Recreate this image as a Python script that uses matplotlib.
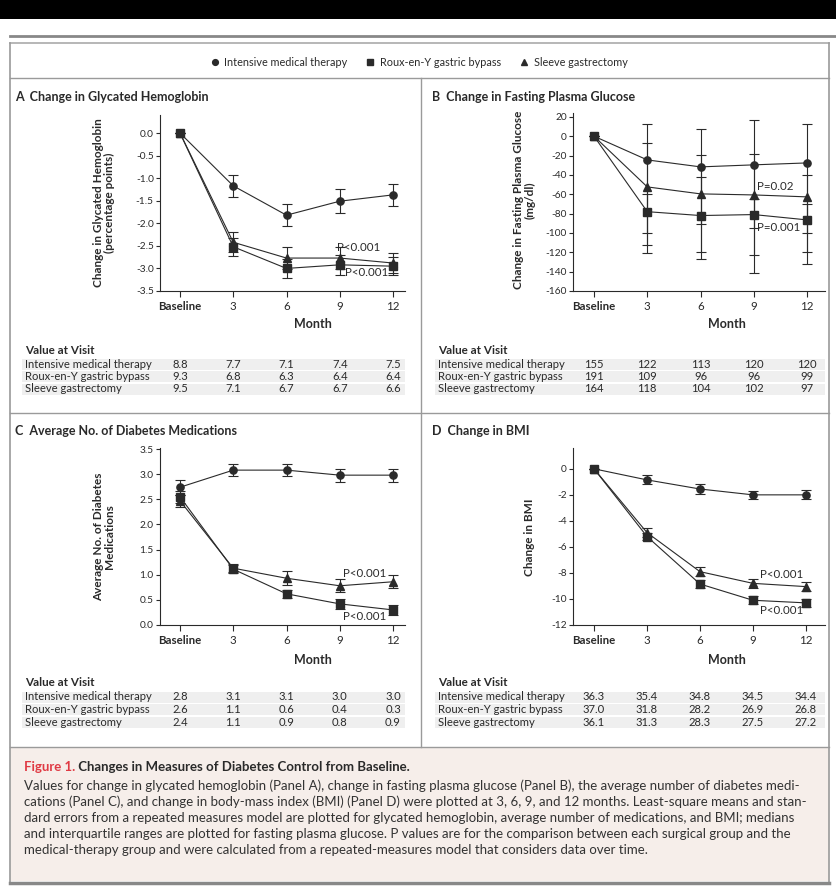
import matplotlib
matplotlib.use('Agg')
import matplotlib.pyplot as plt
from matplotlib.lines import Line2D
from matplotlib.patches import Rectangle
from matplotlib.transforms import blended_transform_factory

plt.rcParams['font.family'] = ['Lato', 'DejaVu Sans']
plt.rcParams['axes.unicode_minus'] = False

W, H = 837, 889
INK = '#2a2a2a'
RULE = '#9a9a9a'

# ---- data ----
months = [0, 3, 6, 9, 12]
month_labels = ['Baseline', '3', '6', '9', '12']
groups = ['Intensive medical therapy', 'Roux-en-Y gastric bypass', 'Sleeve gastrectomy']
group_markers = ['o', 's', '^']
group_msize = [5.2, 6.2, 5.4]

# Panel A: change in glycated hemoglobin (percentage points), mean and SE
hba1c_med = [0, -1.17, -1.82, -1.51, -1.37]
hba1c_rygb = [0, -2.52, -3.00, -2.92, -2.95]
hba1c_slv = [0, -2.42, -2.77, -2.77, -2.88]
hba1c_med_se = [0, 0.24, 0.25, 0.26, 0.25]
hba1c_rygb_se = [0, 0.20, 0.22, 0.22, 0.20]
hba1c_slv_se = [0, 0.22, 0.25, 0.24, 0.22]

# Panel B: change in fasting plasma glucose (mg/dl), median and IQR
fpg_med = [0, -24.5, -31.7, -29.6, -27.6]
fpg_rygb = [0, -78, -82, -81, -86.5]
fpg_slv = [0, -52.4, -59.6, -60.7, -62.7]
fpg_med_q1 = [0, -112, -120, -123, -120]
fpg_med_q3 = [0, 13, -19, -18, 13]
fpg_rygb_q1 = [0, -100, -127, -95, -100]
fpg_rygb_q3 = [0, -60, -42, -65, -70]
fpg_slv_q1 = [0, -121, -91, -141, -132]
fpg_slv_q3 = [0, -7, 7, 17, -40]

# Panel C: average number of diabetes medications, mean and SE
meds_med = [2.74, 3.08, 3.08, 2.98, 2.98]
meds_rygb = [2.55, 1.11, 0.62, 0.42, 0.30]
meds_slv = [2.47, 1.13, 0.93, 0.78, 0.86]
meds_med_se = [0.15, 0.12, 0.12, 0.13, 0.13]
meds_rygb_se = [0.12, 0.08, 0.08, 0.10, 0.10]
meds_slv_se = [0.12, 0.08, 0.14, 0.13, 0.13]

# Panel D: change in BMI, mean and SE
bmi_med = [0, -0.85, -1.55, -2.0, -2.0]
bmi_rygb = [0, -5.2, -8.85, -10.1, -10.3]
bmi_slv = [0, -4.9, -7.9, -8.8, -9.05]
bmi_med_se = [0, 0.35, 0.35, 0.30, 0.35]
bmi_rygb_se = [0, 0.30, 0.30, 0.30, 0.30]
bmi_slv_se = [0, 0.35, 0.35, 0.35, 0.35]

# value-at-visit tables (med, rygb, sleeve)
tab_a = [['8.8', '7.7', '7.1', '7.4', '7.5'],
         ['9.3', '6.8', '6.3', '6.4', '6.4'],
         ['9.5', '7.1', '6.7', '6.7', '6.6']]
tab_b = [['155', '122', '113', '120', '120'],
         ['191', '109', '96', '96', '99'],
         ['164', '118', '104', '102', '97']]
tab_c = [['2.8', '3.1', '3.1', '3.0', '3.0'],
         ['2.6', '1.1', '0.6', '0.4', '0.3'],
         ['2.4', '1.1', '0.9', '0.8', '0.9']]
tab_d = [['36.3', '35.4', '34.8', '34.5', '34.4'],
         ['37.0', '31.8', '28.2', '26.9', '26.8'],
         ['36.1', '31.3', '28.3', '27.5', '27.2']]

caption_lines = [
    "Values for change in glycated hemoglobin (Panel A), change in fasting plasma glucose (Panel B), the average number of diabetes medi-",
    "cations (Panel C), and change in body-mass index (BMI) (Panel D) were plotted at 3, 6, 9, and 12 months. Least-square means and stan-",
    "dard errors from a repeated measures model are plotted for glycated hemoglobin, average number of medications, and BMI; medians",
    "and interquartile ranges are plotted for fasting plasma glucose. P values are for the comparison between each surgical group and the",
    "medical-therapy group and were calculated from a repeated-measures model that considers data over time.",
]


def sym(se):
    return [se, se]


def iqr(mid, q1, q3):
    return [[m - a for m, a in zip(mid, q1)], [b - m for m, b in zip(mid, q3)]]


panels = [
    dict(title='A  Change in Glycated Hemoglobin', tpos=(15, 97), box=(160, 115, 405, 291),
         xlim=(-1.127, 12.676), ylim=(-3.5, 0.4), yticks=[0, -0.5, -1, -1.5, -2, -2.5, -3, -3.5], yfmt='{:.1f}',
         ylabel='Change in Glycated Hemoglobin\n(percentage points)', ylpos=(104, 203),
         series=[(hba1c_med, sym(hba1c_med_se)), (hba1c_rygb, sym(hba1c_rygb_se)), (hba1c_slv, sym(hba1c_slv_se))],
         pvals=[(8.85, -2.53, 'P<0.001'), (9.3, -3.1, 'P<0.001')],
         month=(313, 324), table=tab_a, tx=25, ty=350, shade=(22, 405)),
    dict(title='B  Change in Fasting Plasma Glucose', tpos=(432, 97), box=(573, 113, 825, 291),
         xlim=(-1.183, 13.01), ylim=(-160, 24), yticks=list(range(20, -161, -20)), yfmt='{:d}',
         ylabel='Change in Fasting Plasma Glucose\n(mg/dl)', ylpos=(524, 200),
         series=[(fpg_med, iqr(fpg_med, fpg_med_q1, fpg_med_q3)),
                 (fpg_rygb, iqr(fpg_rygb, fpg_rygb_q1, fpg_rygb_q3)),
                 (fpg_slv, iqr(fpg_slv, fpg_slv_q1, fpg_slv_q3))],
         pvals=[(9.2, -52, 'P=0.02'), (9.2, -94, 'P=0.001')],
         month=(727, 324), table=tab_b, tx=438, ty=350, shade=(435, 825)),
    dict(title='C  Average No. of Diabetes Medications', tpos=(15, 431), box=(160, 448, 405, 625),
         xlim=(-1.127, 12.676), ylim=(0, 3.52), yticks=[0, 0.5, 1, 1.5, 2, 2.5, 3, 3.5], yfmt='{:.1f}',
         ylabel='Average No. of Diabetes\nMedications', ylpos=(104, 537),
         series=[(meds_med, sym(meds_med_se)), (meds_rygb, sym(meds_rygb_se)), (meds_slv, sym(meds_slv_se))],
         pvals=[(9.2, 1.03, 'P<0.001'), (9.2, 0.16, 'P<0.001')],
         month=(313, 660), table=tab_c, tx=25, ty=683, shade=(22, 405)),
    dict(title='D  Change in BMI', tpos=(432, 431), box=(573, 448, 825, 625),
         xlim=(-1.19, 13.08), ylim=(-12, 1.6), yticks=list(range(0, -13, -2)), yfmt='{:d}',
         ylabel='Change in BMI', ylpos=(530, 537),
         series=[(bmi_med, sym(bmi_med_se)), (bmi_rygb, sym(bmi_rygb_se)), (bmi_slv, sym(bmi_slv_se))],
         pvals=[(9.4, -8.1, 'P<0.001'), (9.4, -10.85, 'P<0.001')],
         month=(727, 660), table=tab_d, tx=438, ty=683, shade=(435, 825)),
]

fig = plt.figure(figsize=(W / 100, H / 100), dpi=100)
fig.patch.set_facecolor('white')

# background axes in pixel coordinates (y down)
bg = fig.add_axes([0, 0, 1, 1])
bg.set_xlim(0, W)
bg.set_ylim(H, 0)
bg.axis('off')

# frame
bg.add_patch(Rectangle((0, 0), W, 19, color='black', lw=0))
bg.add_patch(Rectangle((10, 747), 819, 134, facecolor='#f6eeea', edgecolor='none'))
bg.plot([10, W], [36, 36], color='#888888', lw=2)
bg.plot([10, 829], [43, 43], color='#aaaaaa', lw=1.2)
bg.plot([10, 10], [43, 883], color=RULE, lw=1.2)
bg.plot([829, 829], [43, 883], color=RULE, lw=1.2)
bg.plot([10, 829], [78, 78], color=RULE, lw=1)
bg.plot([421, 421], [78, 747], color=RULE, lw=1)
bg.plot([10, 829], [413, 413], color=RULE, lw=1)
bg.plot([10, 829], [747, 747], color=RULE, lw=1)
bg.plot([10, 829], [883, 883], color='#888888', lw=2.5)

# legend
handles = [Line2D([], [], ls='none', marker=m, ms=s * 0.8, color=INK) for m, s in zip(group_markers, group_msize)]
bg.legend(handles, groups, loc='center', bbox_to_anchor=(419, 62), bbox_transform=bg.transData,
          ncol=3, frameon=False, fontsize=7.8, handlelength=0.8, handletextpad=0.5,
          columnspacing=1.7, labelcolor=INK)

for p in panels:
    l, t, r, b = p['box']
    ax = fig.add_axes([l / W, 1 - b / H, (r - l) / W, (b - t) / H])
    ax.patch.set_alpha(0)
    # draw medical, sleeve, bypass so squares sit on top
    for k in [0, 2, 1]:
        y, err = p['series'][k]
        ax.errorbar(months, y, yerr=err, marker=group_markers[k], ms=group_msize[k],
                    color=INK, lw=0.8, elinewidth=0.8, capsize=3.5, capthick=0.8, zorder=3 + k)
    ax.set_xlim(*p['xlim'])
    ax.set_ylim(*p['ylim'])
    ax.set_xticks(months)
    ax.set_xticklabels(month_labels)
    ax.get_xticklabels()[0].set_fontweight('bold')
    ax.set_yticks(p['yticks'])
    ax.set_yticklabels([p['yfmt'].format(v) for v in p['yticks']])
    for s in ['top', 'right']:
        ax.spines[s].set_visible(False)
    for s in ['left', 'bottom']:
        ax.spines[s].set_color(INK)
        ax.spines[s].set_linewidth(0.8)
    ax.tick_params(axis='x', length=4, width=0.8, pad=3, labelsize=8.3, colors=INK)
    ax.tick_params(axis='y', length=3, width=0.8, pad=1.5, labelsize=7.3, colors=INK)
    for x, y, s in p['pvals']:
        ax.text(x, y, s, fontsize=8.3, color=INK, va='center', ha='left')

    # titles and labels
    bg.text(p['tpos'][0], p['tpos'][1], p['title'], fontsize=9, fontweight='bold', color=INK, va='center')
    bg.text(p['ylpos'][0], p['ylpos'][1], p['ylabel'], fontsize=8.5, fontweight='bold', color=INK,
            rotation=90, ha='center', va='center', multialignment='center', linespacing=1.05)
    bg.text(p['month'][0], p['month'][1], 'Month', fontsize=9, fontweight='bold', color=INK,
            ha='center', va='center')

    # value at visit table
    bg.text(p['tx'], p['ty'], 'Value at Visit', fontsize=8.4, fontweight='bold', color=INK, va='center')
    tr = blended_transform_factory(ax.transData, bg.transData)
    for i, (name, vals) in enumerate(zip(groups, p['table'])):
        ry = p['ty'] + 14 + 12.5 * i
        bg.add_patch(Rectangle((p['shade'][0], ry - 5.5), p['shade'][1] - p['shade'][0], 11,
                               facecolor='#efefef', edgecolor='none'))
        bg.text(p['tx'], ry, name, fontsize=8.1, color=INK, va='center')
        for m, v in zip(months, vals):
            bg.text(m, ry, v, fontsize=8.1, color=INK, va='center', ha='center', transform=tr)

# caption
hdr = bg.text(24, 767, 'Figure 1.', fontsize=9.5, fontweight='bold', color='#e03a44', va='center')
bg.annotate(' Changes in Measures of Diabetes Control from Baseline.', xy=(1, 0.5), xycoords=hdr,
            fontsize=9.5, fontweight='bold', color=INK, va='center', ha='left')
for i, line in enumerate(caption_lines):
    bg.text(24, 786 + 16 * i, line, fontsize=9.55, color='#333333', va='center')

fig.savefig('out.png', dpi=100, facecolor='white')
